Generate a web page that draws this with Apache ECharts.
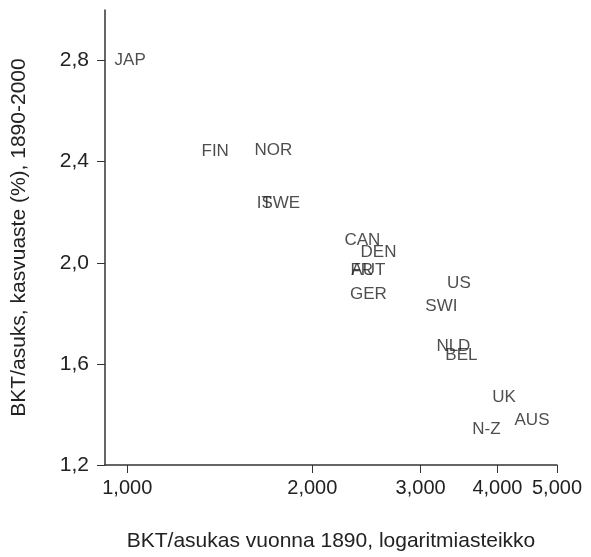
<!DOCTYPE html>
<html>
<head>
<meta charset="utf-8">
<script src="https://cdn.jsdelivr.net/npm/echarts@6/dist/echarts.min.js"></script>
<style>html,body{margin:0;padding:0;background:#fff;}#c{width:591px;height:557px;}</style>
</head>
<body>
<div id="c"></div>
<script>
var countries = ['JAP','FIN','NOR','IT','SWE','CAN','DEN','FR','AUT','GER','US','SWI','NLD','BEL','UK','AUS','N-Z'];
var gdp1890 = [1011,1390,1728,1671,1777,2412,2562,2407,2467,2467,3463,3243,3392,3495,4100,4553,3839];
var growth = [2.80,2.44,2.445,2.235,2.235,2.087,2.043,1.972,1.972,1.874,1.917,1.827,1.671,1.635,1.466,1.376,1.340];
var xTicks = [1000,2000,3000,4000,5000];
var yTicks = [1.2,1.6,2.0,2.4,2.8];
var xMin = 920, xMax = 5000, yMin = 1.2, yMax = 3.0;

var L = Math.log10;
var data = countries.map(function(n,i){ return {name:n, value:[L(gdp1890[i]), growth[i]]}; });
var txt = '#222', axc = '#333';
var chart = echarts.init(document.getElementById('c'));
chart.setOption({
  animation:false,
  grid:{left:105,right:34,top:10,bottom:89,containLabel:false},
  xAxis:{
    type:'value', min:L(xMin), max:L(xMax),
    name:'BKT/asukas vuonna 1890, logaritmiasteikko', nameLocation:'middle', nameGap:66,
    nameTextStyle:{fontFamily:'Liberation Sans',fontSize:21,color:txt},
    axisLine:{show:true,lineStyle:{color:axc,width:1.5}},
    axisTick:{show:true,customValues:xTicks.map(L),length:8,lineStyle:{color:axc,width:1}},
    axisLabel:{customValues:xTicks.map(L),margin:13,fontFamily:'Liberation Sans',fontSize:20,color:txt,
      formatter:function(v){return Math.round(Math.pow(10,v)).toLocaleString('en-US');}},
    splitLine:{show:false}
  },
  yAxis:{
    type:'value', min:yMin, max:yMax,
    name:'BKT/asuks, kasvuaste (%), 1890-2000', nameLocation:'middle', nameGap:75,
    nameTextStyle:{fontFamily:'Liberation Sans',fontSize:21,color:txt},
    axisLine:{show:true,lineStyle:{color:axc,width:1.5}},
    axisTick:{show:true,customValues:yTicks,length:8,lineStyle:{color:axc,width:1}},
    axisLabel:{customValues:yTicks,margin:16,fontFamily:'Liberation Sans',fontSize:21,color:txt,
      formatter:function(v){return v.toFixed(1).replace('.',',');}},
    splitLine:{show:false}
  },
  series:[{
    type:'scatter', data:data, symbolSize:1, itemStyle:{color:'rgba(0,0,0,0)'},
    label:{show:true,position:'inside',formatter:'{b}',fontFamily:'Liberation Sans',fontSize:17,color:txt,textBorderWidth:0},
    labelLayout:{hideOverlap:false}
  }]
});
</script>
</body>
</html>
